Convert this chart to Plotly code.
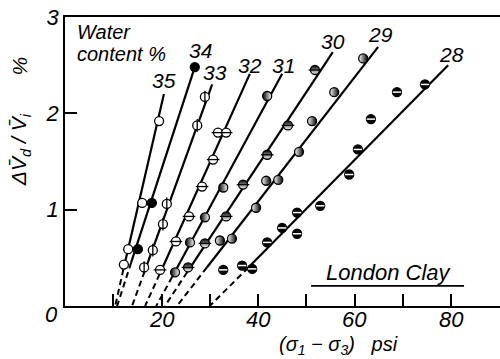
import plotly.graph_objects as go

# ---- data ----
water_content = [35, 34, 33, 32, 31, 30, 29, 28]

x_35 = [19.5, 16.0, 13.1, 12.2]
y_35 = [1.92, 1.07, 0.59, 0.43]
x_34 = [26.9, 18.0, 15.1]
y_34 = [2.48, 1.07, 0.59]
x_33 = [29.0, 27.4, 21.1, 20.3, 18.2, 16.4]
y_33 = [2.17, 1.875, 1.06, 0.85, 0.58, 0.40]
x_32 = [31.7, 33.4, 30.7, 28.4, 25.7, 23.0, 19.7]
y_32 = [1.80, 1.80, 1.52, 1.24, 0.93, 0.67, 0.375]
x_31 = [41.9, 32.8, 29.0, 25.9, 22.8]
y_31 = [2.18, 1.23, 0.92, 0.66, 0.35]
x_30 = [51.8, 46.2, 41.9, 36.9, 33.4, 29.0, 25.5]
y_30 = [2.45, 1.875, 1.57, 1.26, 0.93, 0.65, 0.40]
x_29 = [61.8, 55.8, 51.2, 48.5, 44.2, 41.7, 39.6, 34.6, 32.1]
y_29 = [2.57, 2.22, 1.92, 1.60, 1.31, 1.30, 1.02, 0.70, 0.68]
x_28 = [74.6, 68.8, 63.4, 60.7, 58.9, 52.9, 48.1, 48.1, 45.0, 41.9, 38.8, 36.7, 32.8]
y_28 = [2.30, 2.22, 1.94, 1.625, 1.365, 1.04, 0.97, 0.75, 0.81, 0.66, 0.385, 0.42, 0.375]

# fitted lines: solid from top to dash start, dashed to x-intercept
line_top_x = [20.5, 26.9, 30.5, 38.3, 45.0, 55.5, 64.9, 79.4]
line_top_y = [2.20, 2.48, 2.30, 2.41, 2.41, 2.635, 2.69, 2.50]
dash_start_x = [12.1, 13.7, 16.5, 19.6, 22.2, 25.3, 29.4, 38.0]
dash_start_y = [0.38, 0.45, 0.36, 0.33, 0.30, 0.35, 0.40, 0.40]
intercept_x = [10.4, 10.8, 13.9, 16.6, 18.9, 20.7, 23.2, 30.0]

label_x = [20.5, 28.0, 31.1, 38.3, 45.2, 55.5, 65.3, 80.0]
label_y = [2.34, 2.65, 2.42, 2.50, 2.50, 2.75, 2.82, 2.61]

x_ticks = [10, 20, 30, 40, 50, 60, 70, 80]
x_ticktext = ["", "20", "", "40", "", "60", "", "80"]
y_ticks = [1, 2, 3]
y_ticktext = ["1", "2", "3"]

FONT = "Liberation Sans"
fig = go.Figure()

# lines
for i, w in enumerate(water_content):
    fig.add_trace(go.Scatter(x=[line_top_x[i], dash_start_x[i]], y=[line_top_y[i], dash_start_y[i]],
                             mode="lines", line=dict(color="black", width=2.2), showlegend=False, hoverinfo="skip"))
    fig.add_trace(go.Scatter(x=[dash_start_x[i], intercept_x[i]], y=[dash_start_y[i], 0],
                             mode="lines", line=dict(color="black", width=2, dash="6px,4px"),
                             showlegend=False, hoverinfo="skip"))

MS = 9
LW = 1.3
def pts(x, y, **marker):
    m = dict(size=MS, line=dict(color="black", width=LW))
    m.update(marker)
    fig.add_trace(go.Scatter(x=x, y=y, mode="markers", marker=m, showlegend=False, hoverinfo="skip"))

def overlay(x, y, symbol, color="black", width=1.3, size=MS):
    fig.add_trace(go.Scatter(x=x, y=y, mode="markers",
                             marker=dict(symbol=symbol, size=size, line=dict(color=color, width=width)),
                             showlegend=False, hoverinfo="skip"))

pts(x_35, y_35, symbol="circle", color="white")
pts(x_34, y_34, symbol="circle", color="black")
pts(x_33, y_33, symbol="circle", color="white")
overlay(x_33, y_33, "line-ns")
pts(x_32, y_32, symbol="circle", color="white")
overlay(x_32, y_32, "line-ew")
pts(x_31, y_31, symbol="circle", color="black", gradient=dict(type="horizontal", color="white"))
pts(x_30, y_30, symbol="circle", color="black", gradient=dict(type="vertical", color="white"))
overlay(x_30, y_30, "line-ew")
pts(x_29, y_29, symbol="circle", color="white", gradient=dict(type="horizontal", color="black"))
pts(x_28, y_28, symbol="circle", color="black")
overlay(x_28, y_28, "line-ew", color="white", width=1.5, size=6)

ann_font = dict(family=FONT, size=21, color="black", style="italic")
def note(x, y, text, xref="x", yref="y", **kw):
    fig.add_annotation(x=x, y=y, xref=xref, yref=yref, text=text, showarrow=False,
                       xanchor=kw.pop("xanchor", "center"), yanchor="middle",
                       font=kw.pop("font", ann_font), **kw)

for i, w in enumerate(water_content):
    note(label_x[i], label_y[i], str(w))

small_font = dict(family=FONT, size=20, color="black", style="italic")
note(2.0, 2.84, "Water", xanchor="left", font=small_font)
note(2.0, 2.62, "content %", xanchor="left", font=small_font)
note(67.2, 0.343, "London Clay", font=dict(family=FONT, size=22, color="black", style="italic"))
fig.add_shape(type="line", x0=51.0, x1=82.7, y0=0.208, y1=0.208, line=dict(color="black", width=1.8))

# tick labels placed below the axis
tick_font = dict(family=FONT, size=22, color="black", style="italic")
for v, t in zip(x_ticks, x_ticktext):
    if t:
        note(v, -0.048, t, yref="paper", font=tick_font)
note(-0.032, -0.028, "0", xref="paper", yref="paper", font=tick_font)

# axis titles
note(0.628, -0.136, "(σ<sub>1</sub> − σ<sub>3</sub>)   psi", xref="paper", yref="paper", font=small_font)
note(-0.103, 0.54, "ΔV̄<sub>d</sub> / V̄<sub>i</sub>", xref="paper", yref="paper", textangle=-90)
note(-0.105, 0.83, "%", xref="paper", yref="paper", textangle=-90)

fig.update_xaxes(range=[0, 90.15], showline=True, linecolor="black", linewidth=1.5, mirror=True,
                 ticks="inside", ticklen=12, tickwidth=1.5, tickcolor="black",
                 tickvals=x_ticks, showticklabels=False,
                 showgrid=False, zeroline=False)
fig.update_yaxes(range=[0, 3.0], showline=True, linecolor="black", linewidth=1.5,
                 ticks="inside", ticklen=12, tickwidth=1.5, tickcolor="black",
                 tickvals=y_ticks, ticktext=y_ticktext, tickfont=tick_font,
                 showgrid=False, zeroline=False)
fig.update_layout(width=500, height=359, margin=dict(l=65, r=0, t=17, b=53),
                  plot_bgcolor="white", paper_bgcolor="white")

fig.write_html("out.html")
